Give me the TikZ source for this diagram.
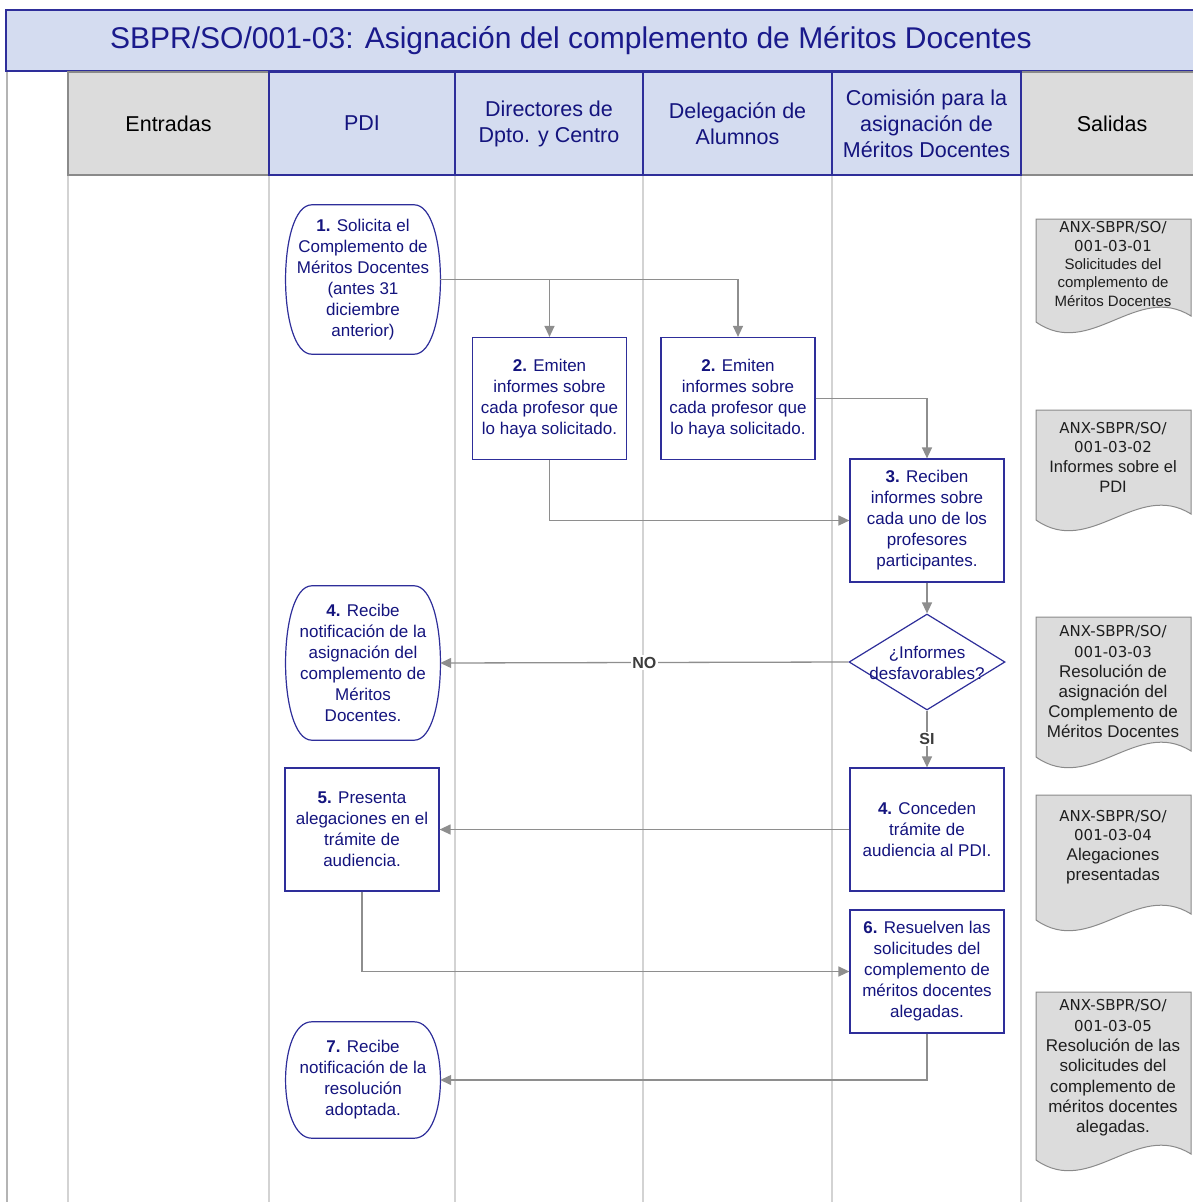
\documentclass[tikz,border=0pt]{standalone}
\usepackage{fontspec}
\setmainfont{Liberation Sans}
\newfontfamily\codefont{DejaVu Sans}
\usetikzlibrary{arrows.meta,shapes.geometric,calc}
\definecolor{ttlblue}{HTML}{1A1A8C}
\definecolor{bordblue}{HTML}{2E2E9A}
\definecolor{txtblue}{HTML}{14147E}
\definecolor{hdrfill}{HTML}{D4DCF0}
\definecolor{grayfill}{HTML}{DCDCDC}
\definecolor{grayedge}{HTML}{8A8A8A}
\definecolor{lanegray}{HTML}{D3D3D3}
\definecolor{margray}{HTML}{B4B4B4}
\definecolor{arrgray}{HTML}{8E8E8E}
\definecolor{lblgray}{HTML}{3C3C3C}
\definecolor{doctxt}{HTML}{1E1E1E}
\pgfdeclarelayer{lanes}
\pgfdeclarelayer{shapes}
\pgfsetlayers{lanes,shapes,main}
\newcommand\anx[1]{{\codefont\fontsize{15}{18}\selectfont #1}}
\newcommand\termoutline[1]{%
  \begin{pgfonlayer}{shapes}
  \draw[termline] ($(#1.north west)+(26,0)$) -- ($(#1.north east)+(-26,0)$)
    .. controls ($(#1.north east)+(9,0)$) and ($(#1.south east)+(9,0)$) .. ($(#1.south east)+(-26,0)$)
    -- ($(#1.south west)+(26,0)$)
    .. controls ($(#1.south west)+(-9,0)$) and ($(#1.north west)+(-9,0)$) .. cycle;
  \end{pgfonlayer}}
\newcommand\docshape[4]{%
  \begin{pgfonlayer}{shapes}
  \draw[docline] (#1,#2) -- (#3,#2) -- (#3,#4-6)
    .. controls ({#3-0.35*(#3-#1)},#4-40) and ({#1+0.35*(#3-#1)},#4+38) .. (#1,#4) -- cycle;
  \end{pgfonlayer}}
\tikzset{
  hdrblue/.style={draw=bordblue, fill=hdrfill, line width=1.2pt, text=txtblue, align=center, font=\fontsize{21.5}{26}\selectfont, inner sep=0pt, minimum height=103pt},
  hdrgray/.style={draw=grayedge, fill=grayfill, line width=1.2pt, text=black, align=center, font=\fontsize{21.5}{26}\selectfont, inner sep=0pt, minimum height=103pt},
  task/.style={draw=bordblue, fill=white, line width=1.2pt, text=txtblue, align=center, font=\fontsize{17}{21}\selectfont, inner sep=0pt, minimum width=154pt, minimum height=122pt},
  termtext/.style={text=txtblue, align=center, font=\fontsize{17}{21}\selectfont, inner sep=0pt, minimum width=154pt},
  termline/.style={draw=bordblue, fill=white, line width=1.2pt},
  flow/.style={draw=arrgray, line width=1.3pt, -{Triangle[length=11pt,width=10pt]}},
  lbl/.style={fill=white, text=lblgray, font=\bfseries\fontsize{16}{18}\selectfont, inner sep=1.5pt},
  docline/.style={draw=grayedge, fill=grayfill, line width=1pt},
  doctext/.style={text=doctxt, align=center, inner sep=0pt},
  lane/.style={draw=lanegray, line width=1.3pt},
}
\begin{document}
\begin{tikzpicture}[x=1pt,y=-1pt]
\useasboundingbox (0,0) rectangle (1193,1202);
\begin{pgfonlayer}{lanes}
  \draw[draw=margray, line width=2pt] (7,71) -- (7,1202);
  \foreach \x in {68,269,455,643,832,1021} \draw[lane] (\x,175) -- (\x,1202);
\end{pgfonlayer}
% title
\node[draw=bordblue, fill=hdrfill, line width=1.2pt, minimum width=1200pt, minimum height=61pt, inner sep=0pt] (tbox) at (606,40.5) {};
\node[text=ttlblue, font=\fontsize{30}{36}\selectfont, inner sep=0pt] (ttl) at (571,41) {SBPR/SO/001-03: Asignación del complemento de Méritos Docentes};
% headers
\node[hdrgray, minimum width=201pt] (hE) at (168.5,123.5) {Entradas};
\node[hdrgray, minimum width=182pt] (hS) at (1112,123.5) {Salidas};
\node[hdrblue, minimum width=186pt] (hP) at (362,123.5) {PDI};
\node[hdrblue, minimum width=188pt] (hD) at (549,123.5) {Directores de\\Dpto. y Centro};
\node[hdrblue, minimum width=189pt] (hA) at (737.5,123.5) {Delegación de\\Alumnos};
\node[hdrblue, minimum width=189pt] (hC) at (926.5,123.5) {Comisión para la\\asignación de\\Méritos Docentes};
% process nodes
\node[termtext, minimum height=149pt] (n1) at (363,279.5) {\textbf{1.} Solicita el\\Complemento de\\Méritos Docentes\\(antes 31\\diciembre\\anterior)};
\node[task] (n2a) at (549.5,398.5) {\textbf{2.} Emiten\\informes sobre\\cada profesor que\\lo haya solicitado.};
\node[task] (n2b) at (738,398.5) {\textbf{2.} Emiten\\informes sobre\\cada profesor que\\lo haya solicitado.};
\node[task, minimum height=123pt] (n3) at (927,520.5) {\textbf{3.} Reciben\\informes sobre\\cada uno de los\\profesores\\participantes.};
\node[diamond, draw=bordblue, fill=white, line width=1.2pt, minimum width=156pt, minimum height=96pt, inner sep=0pt] (dec) at (927,662) {};
\node[text=txtblue, align=center, font=\fontsize{17}{21}\selectfont, inner sep=0pt] (dect) at (927,662.5) {¿Informes\\desfavorables?};
\node[termtext, minimum height=154pt] (n4) at (363,663) {\textbf{4.} Recibe\\notificación de la\\asignación del\\complemento de\\Méritos\\Docentes.};
\node[task, minimum height=123pt] (n5) at (362,829.5) {\textbf{5.} Presenta\\alegaciones en el\\trámite de\\audiencia.};
\node[task, minimum height=123pt] (n4c) at (927,829.5) {\textbf{4.} Conceden\\trámite de\\audiencia al PDI.};
\node[task, minimum height=123pt] (n6) at (927,971.5) {\textbf{6.} Resuelven las\\solicitudes del\\complemento de\\méritos docentes\\alegadas.};
\node[termtext, minimum height=116pt] (n7) at (363,1080) {\textbf{7.} Recibe\\notificación de la\\resolución\\adoptada.};
\termoutline{n1}
\termoutline{n4}
\termoutline{n7}
% documents
\docshape{1036}{219}{1191}{322}
\docshape{1036}{410}{1191}{520}
\docshape{1036}{617}{1191}{757}
\docshape{1036}{795}{1191}{920}
\docshape{1036}{992}{1191}{1160}
\node[doctext, font=\fontsize{15}{18.3}\selectfont] (d1) at (1113,264) {\anx{ANX-SBPR/SO/}\\\anx{001-03-01}\\Solicitudes del\\complemento de\\Méritos Docentes};
\node[doctext, font=\fontsize{16.5}{19.7}\selectfont] (d2) at (1113,457) {\anx{ANX-SBPR/SO/}\\\anx{001-03-02}\\Informes sobre el\\PDI};
\node[doctext, font=\fontsize{17}{20.2}\selectfont] (d3) at (1113,682) {\anx{ANX-SBPR/SO/}\\\anx{001-03-03}\\Resolución de\\asignación del\\Complemento de\\Méritos Docentes};
\node[doctext, font=\fontsize{17}{19.7}\selectfont] (d4) at (1113,847) {\anx{ANX-SBPR/SO/}\\\anx{001-03-04}\\Alegaciones\\presentadas};
\node[doctext, font=\fontsize{17}{20.3}\selectfont] (d5) at (1113,1068) {\anx{ANX-SBPR/SO/}\\\anx{001-03-05}\\Resolución de las\\solicitudes del\\complemento de\\méritos docentes\\alegadas.};
% connectors
\draw[flow] (n1.east) -| (n2a.north);
\draw[flow] (n1.east) -| (n2b.north);
\draw[flow] (n2a.south) |- (n3.west);
\draw[flow] (n2b.east) -| (n3.north);
\draw[flow] (n3.south) -- (dec.north);
\draw[flow] (dec.west) -- node[lbl] (no) {NO} (n4.east);
\draw[flow] (dec.south) -- node[lbl] (si) {SI} (n4c.north);
\draw[flow] (n4c.west) -- (n5.east);
\draw[flow] (n5.south) |- (n6.west);
\draw[flow] (n6.south) |- (n7.east);
\end{tikzpicture}
\end{document}
